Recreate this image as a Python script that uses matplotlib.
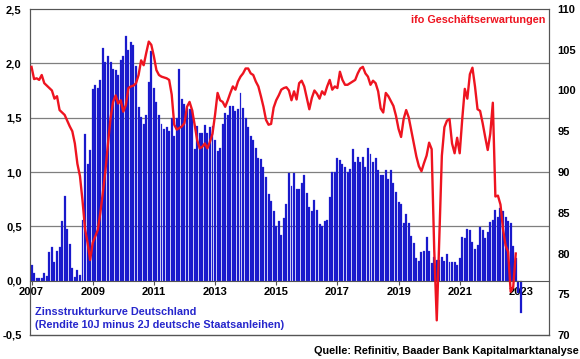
import numpy as np
import matplotlib
matplotlib.use("Agg")
import matplotlib.pyplot as plt
from matplotlib.ticker import FuncFormatter

plt.rcParams['font.family'] = ['Liberation Sans', 'DejaVu Sans']
plt.rcParams['font.weight'] = 'bold'

# Zinsstrukturkurve (10J minus 2J), monthly Jan 2007 .. Jan 2023
spread = [
    0.14, 0.07, 0.02, 0.02, 0.02, 0.07, 0.04, 0.26, 0.31, 0.17, 0.27, 0.31,
    0.55, 0.78, 0.48, 0.34, 0.12, 0.03, 0.10, 0.05, 0.56,
    1.35, 1.07, 1.20, 1.76, 1.80, 1.77, 1.85, 2.14, 2.01, 2.07, 2.01, 1.95,
    1.94, 1.89, 2.03, 2.07, 2.25, 2.12, 2.20, 2.17, 1.98, 1.60, 1.51, 1.44,
    1.52, 1.83, 2.11, 1.77, 1.64, 1.52, 1.44, 1.40, 1.41, 1.38, 1.50, 1.33,
    1.50, 1.95, 1.67, 1.63, 1.59, 1.58, 1.57, 1.21, 1.42, 1.36, 1.36, 1.43,
    1.36, 1.41, 1.42, 1.29, 1.19, 1.22, 1.44, 1.54, 1.52, 1.61, 1.61, 1.56,
    1.58, 1.73, 1.59, 1.50, 1.41, 1.33, 1.29, 1.22, 1.13, 1.12, 1.05,
    0.95, 0.80, 0.73, 0.64, 0.50, 0.55, 0.42, 0.58, 0.71, 0.99, 0.87, 0.99,
    0.84, 0.84, 0.90, 0.97, 0.81, 0.68, 0.64, 0.74, 0.65, 0.52, 0.50, 0.55,
    0.56, 0.77, 1.00, 1.00, 1.13, 1.11, 1.07, 1.05, 1.00, 1.03, 1.21, 1.09,
    1.14, 1.09, 1.14, 1.05, 1.22, 1.17, 1.09, 1.13, 1.02, 0.97, 0.97, 1.02,
    0.94, 1.02, 0.90, 0.82, 0.72, 0.71, 0.53, 0.61, 0.53, 0.41, 0.35, 0.21,
    0.18, 0.26, 0.27, 0.40, 0.27, 0.16, 0.22, 0.19,
    0.19, 0.22, 0.18, 0.25, 0.17, 0.17, 0.17, 0.14, 0.21, 0.40, 0.39, 0.48,
    0.47, 0.36, 0.29, 0.33, 0.49, 0.47, 0.39, 0.45, 0.54, 0.56, 0.65, 0.59,
    0.67, 0.64, 0.59, 0.55, 0.53, 0.32, 0.21, -0.11, -0.30,
]

# ifo Geschaeftserwartungen, monthly Jan 2007 .. Nov 2022
ifo = [
    102.9, 101.4, 101.5, 101.3, 101.9, 100.9, 100.6, 100.3, 100.0, 99.0, 99.3, 97.6,
    97.3, 97.0, 96.3, 95.6, 95.0, 93.5, 91.0, 89.5, 86.5, 83.0, 81.3, 79.2,
    81.3, 82.1, 82.9, 85.0, 87.5, 90.2, 93.5, 96.6, 98.6, 99.4, 98.4, 98.8,
    97.4, 98.2, 100.3, 100.5, 100.6, 100.9, 101.9, 103.7, 103.1, 104.6, 106.0, 105.6,
    104.2, 102.5, 101.9, 101.7, 101.6, 101.5, 101.3, 99.5, 95.8, 95.2, 95.4, 95.6,
    96.0, 98.0, 98.6, 97.6, 95.8, 93.9, 92.9, 93.1, 93.5, 92.9, 93.7, 94.7,
    97.0, 99.7, 98.8, 98.6, 98.0, 98.8, 99.7, 100.5, 100.1, 101.1, 101.7, 102.1,
    102.7, 102.7, 102.1, 101.9, 101.1, 100.5, 99.3, 98.0, 96.4, 95.8, 95.9, 97.9,
    98.8, 99.4, 100.1, 100.3, 100.4, 100.0, 98.8, 99.9, 98.9, 100.9, 101.2, 100.5,
    99.1, 97.7, 99.1, 100.0, 99.6, 99.0, 99.9, 99.5, 100.5, 101.3, 100.1, 100.5,
    100.3, 102.3, 101.3, 100.7, 100.7, 100.9, 101.1, 101.3, 102.1, 102.7, 102.9, 102.1,
    101.7, 100.7, 101.2, 100.9, 99.9, 97.8, 97.3, 99.7, 99.3, 98.7, 98.1, 96.9,
    95.3, 94.3, 96.5, 97.6, 96.7, 95.1, 93.5, 91.9, 90.7, 90.1, 91.1, 92.0,
    93.6, 92.8, 80.5, 71.8, 82.0, 92.0, 95.5, 96.3, 96.5, 93.5, 92.3, 94.2,
    92.3, 96.5, 100.2, 99.0, 102.0, 102.8, 100.5, 97.7, 97.5, 96.0, 94.3, 92.7,
    94.7, 98.5, 87.0, 87.1, 86.0, 83.0, 81.0, 80.2, 75.3, 75.9, 80.0,
]

year_ticks = list(range(2007, 2024, 2))
left_ticks = [-0.5, 0.0, 0.5, 1.0, 1.5, 2.0, 2.5]
right_ticks = [70, 75, 80, 85, 90, 95, 100, 105, 110]

x_bar = 2007 + np.arange(len(spread)) / 12.0
x_ifo = 2007 + np.arange(len(ifo)) / 12.0

fig = plt.figure(figsize=(5.8, 3.59), dpi=100)
ax = fig.add_axes([30 / 580, 1 - 335 / 359, 519 / 580, 326 / 359])
ax2 = ax.twinx()

for v in [0.5, 1.0, 1.5, 2.0]:
    ax.axhline(v, color='#7f7f7f', lw=0.9, zorder=0)

ax.bar(x_bar, spread, width=0.064, color='#1414c8', edgecolor='#3a3ae0',
       linewidth=0.2, zorder=2)
ax2.plot(x_ifo, ifo, color='#ee1420', lw=1.7, zorder=3)

ax.set_xlim(2006.95, 2023.92)
ax.set_ylim(-0.5, 2.5)
ax2.set_ylim(70, 110)

ax.set_yticks(left_ticks)
ax.yaxis.set_major_formatter(FuncFormatter(lambda v, p: f"{v:.1f}".replace('.', ',')))
ax2.set_yticks(right_ticks)

ax.set_xticks(year_ticks)
ax.spines['bottom'].set_position(('data', 0))
ax.axhline(-0.5, color='#555555', lw=1.0, zorder=1, clip_on=False)

for s in ['left', 'right', 'top', 'bottom']:
    ax.spines[s].set_color('#555555')
    ax2.spines[s].set_color('#555555')
ax2.spines['bottom'].set_visible(False)
ax.spines['top'].set_color('#7f7f7f')

ax.tick_params(axis='x', length=3, width=0.8, color='#555555', pad=1.5,
               labelsize=8)
ax.tick_params(axis='y', length=0, pad=6, labelsize=8)
ax2.tick_params(axis='y', length=0, pad=6, labelsize=8)

ax.set_zorder(ax2.get_zorder() - 1)
ax2.patch.set_visible(False)
ax.patch.set_facecolor('white')

ax.text(2007.1, -0.285, 'Zinsstrukturkurve Deutschland', color='#2626cc',
        fontsize=7.8, fontweight='bold', va='center', ha='left', zorder=5)
ax.text(2007.1, -0.405, '(Rendite 10J minus 2J deutsche Staatsanleihen)',
        color='#2626cc', fontsize=7.8, fontweight='bold', va='center',
        ha='left', zorder=5)
ax2.text(2023.8, 108.6, 'ifo Geschäftserwartungen', color='#ee1420',
         fontsize=7.8, fontweight='bold', va='center', ha='right')
fig.text(0.997, 0.022, 'Quelle: Refinitiv, Baader Bank Kapitalmarktanalyse',
         ha='right', va='center', fontsize=7.8, fontweight='bold')

fig.savefig('out.png', dpi=100)
